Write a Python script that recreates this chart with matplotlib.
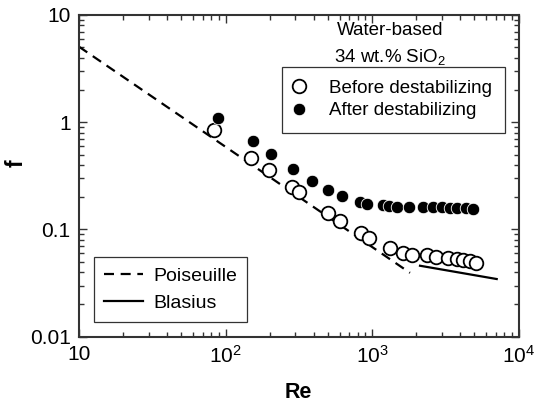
import matplotlib
matplotlib.use('Agg')
import matplotlib.pyplot as plt
from matplotlib.ticker import FixedLocator, LogLocator, NullFormatter

plt.rcParams['font.family'] = ['Liberation Sans', 'DejaVu Sans']
plt.rcParams['mathtext.default'] = 'regular'

# before destabilizing (open circles)
re_before = [83.5, 148.6, 199, 283, 318, 503, 605, 835, 954, 1327, 1636, 1866,
             2363, 2735, 3318, 3785, 4200, 4666, 5128]
f_before = [0.846, 0.460, 0.358, 0.247, 0.225, 0.141, 0.1206, 0.0936, 0.0826,
            0.0666, 0.0598, 0.0577, 0.0577, 0.0549, 0.0537, 0.0526, 0.0518,
            0.0510, 0.0489]

# after destabilizing (filled circles)
re_after = [89.3, 153, 204, 290, 391, 498, 627, 828, 920, 1194, 1312, 1488,
            1797, 2239, 2620, 2990, 3407, 3785, 4381, 4869]
f_after = [1.087, 0.668, 0.505, 0.363, 0.283, 0.233, 0.205, 0.181, 0.172,
           0.169, 0.165, 0.163, 0.163, 0.1615, 0.163, 0.1606, 0.159, 0.1585,
           0.1575, 0.1565]

# reference correlations, end points
re_pois = [10, 1816]
f_pois = [5.06, 0.0394]
re_blas = [2126, 7096]
f_blas = [0.0459, 0.0345]

xticks = [10, 100, 1000, 10000]
xticklabels = ['10', '$10^2$', '$10^3$', '$10^4$']
yticks = [0.01, 0.1, 1, 10]
yticklabels = ['0.01', '0.1', '1', '10']

fig = plt.figure(figsize=[5.35, 4.03], dpi=100)
ax = fig.add_axes([0.1477, 0.1645, 0.8215, 0.7983])

l_pois, = ax.plot(re_pois, f_pois, color='black', lw=1.6, dashes=(4.5, 3),
                  label='Poiseuille')
l_blas, = ax.plot(re_blas, f_blas, color='black', lw=1.6, label='Blasius')
p_before, = ax.plot(re_before, f_before, 'o', ms=9.8, mfc='white', mec='black',
                    mew=1.3, ls='none', label='Before destabilizing')
p_after, = ax.plot(re_after, f_after, 'o', ms=9.0, mfc='black', mec='white',
                   mew=0.6, ls='none', label='After destabilizing')

ax.set_xscale('log')
ax.set_yscale('log')
ax.set_xlim(10, 10000)
ax.set_ylim(0.01, 10)
ax.xaxis.set_major_locator(FixedLocator(xticks))
ax.yaxis.set_major_locator(FixedLocator(yticks))
ax.set_xticklabels(xticklabels)
ax.set_yticklabels(yticklabels)
ax.xaxis.set_minor_locator(LogLocator(base=10, subs=range(2, 10)))
ax.yaxis.set_minor_locator(LogLocator(base=10, subs=range(2, 10)))
ax.xaxis.set_minor_formatter(NullFormatter())
ax.yaxis.set_minor_formatter(NullFormatter())

ax.tick_params(which='both', direction='in', top=True, right=True,
               color='#333333', width=1.0)
ax.tick_params(which='major', length=6, labelsize=15, pad=6)
ax.tick_params(which='minor', length=3.5)
for s in ax.spines.values():
    s.set_linewidth(1.5)
    s.set_color('#333333')

ax.set_xlabel('Re', fontsize=15.5, fontweight='bold', labelpad=11)
ax.set_ylabel('f', fontsize=16.5, fontweight='bold')
ax.yaxis.set_label_coords(-0.116, 0.54)

ax.text(0.708, 0.978, 'Water-based\n34 wt.% SiO$_2$', transform=ax.transAxes,
        ha='center', va='top', fontsize=13.5, linespacing=1.5)

leg1 = ax.legend(handles=[p_before, p_after], loc='upper right',
                 bbox_to_anchor=(0.969, 0.839), borderaxespad=0, fontsize=13.5,
                 frameon=True, fancybox=False, edgecolor='black',
                 handletextpad=1.4, labelspacing=0.28, borderpad=0.7,
                 handlelength=0.4)
leg1.get_frame().set_linewidth(0.9)
ax.add_artist(leg1)

leg2 = ax.legend(handles=[l_pois, l_blas], loc='lower left',
                 bbox_to_anchor=(0.034, 0.047), borderaxespad=0, fontsize=14,
                 frameon=True, fancybox=False, edgecolor='black',
                 handlelength=2.0, handletextpad=0.55, labelspacing=0.5,
                 borderpad=0.5)
leg2.get_frame().set_linewidth(0.9)

fig.savefig('out.png', dpi=100)
